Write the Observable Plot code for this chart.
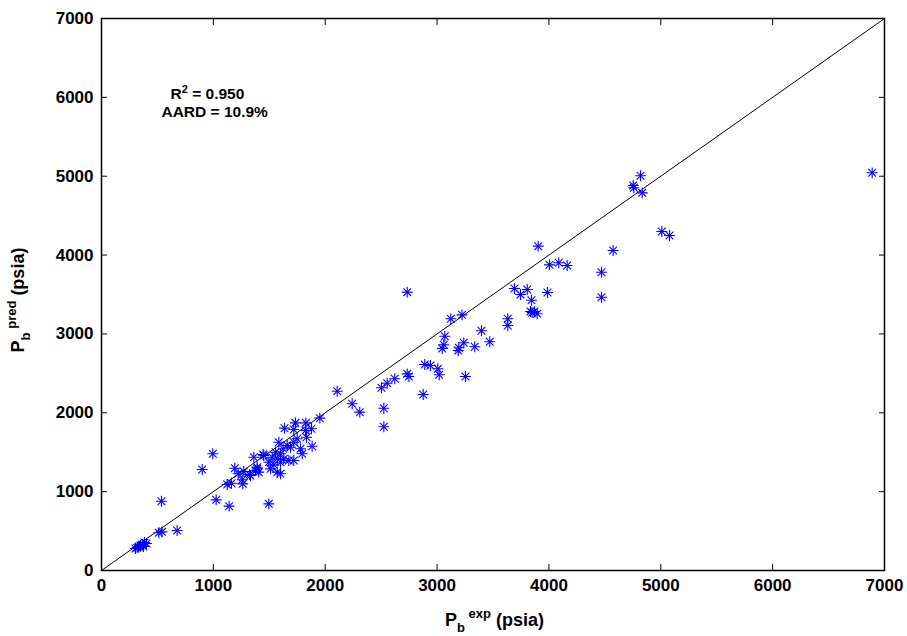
<!DOCTYPE html>
<html>
<head>
<meta charset="utf-8">
<script src="https://cdn.jsdelivr.net/npm/d3@7"></script>
<script src="https://cdn.jsdelivr.net/npm/@observablehq/plot@0.6"></script>
<style>
  html, body { margin: 0; padding: 0; background: white; }
  #chart svg { display: block; }
</style>
</head>
<body>
<div id="chart"></div>
<script>
// Experimental bubble-point pressure (psia)
const pbExp = [304, 331, 349, 366, 384, 402, 375, 320, 513, 540, 676, 536, 900, 995, 1025, 1141, 1124, 1162, 1192, 1222,
  1258, 1263, 1272, 1323, 1332, 1362, 1377, 1392, 1406, 1392, 1451, 1445, 1496, 1496, 1511, 1526, 1541, 1556, 1571, 1571,
  1585, 1600, 1600, 1600, 1624, 1630, 1636, 1660, 1675, 1690, 1719, 1719, 1719, 1734, 1749, 1779, 1794, 1824, 1827, 1833,
  1877, 1883, 1952, 2107, 2241, 2309, 2503, 2524, 2524, 2554, 2622, 2733, 2733, 2748, 2876, 2890, 2941, 3007, 3019, 3046,
  3060, 3069, 3123, 3189, 3195, 3223, 3239, 3254, 3337, 3397, 3471, 3632, 3632, 3692, 3746, 3806, 3835, 3850, 3870, 3895,
  3844, 3904, 3987, 4005, 4088, 4163, 4470, 4470, 4574, 4753, 4759, 4819, 4834, 5009, 5078, 6890];
// Predicted bubble-point pressure (psia)
const pbPred = [279, 304, 317, 330, 355, 342, 304, 290, 478, 490, 507, 879, 1281, 1480, 896, 816, 1090, 1107, 1297, 1226,
  1150, 1099, 1255, 1217, 1205, 1437, 1268, 1310, 1247, 1289, 1458, 1471, 1373, 845, 1289, 1437, 1340, 1500, 1416, 1247,
  1627, 1480, 1373, 1226, 1543, 1416, 1805, 1585, 1395, 1563, 1627, 1788, 1395, 1872, 1670, 1543, 1480, 1775, 1872, 1690,
  1797, 1576, 1932, 2274, 2114, 2008, 2317, 2058, 1822, 2375, 2431, 3530, 2494, 2460, 2232, 2612, 2600, 2558, 2482, 2815,
  2862, 2971, 3192, 2790, 2824, 3242, 2888, 2460, 2837, 3040, 2900, 3192, 3107, 3576, 3500, 3563, 3284, 3270, 3284, 3255,
  3428, 4113, 3525, 3876, 3902, 3868, 3783, 3466, 4058, 4882, 4853, 5005, 4789, 4299, 4248, 5043];
const diagonal = [0, 7000];
const tickValues = [0, 1000, 2000, 3000, 4000, 5000, 6000, 7000];
const annotLines = ["R2 = 0.950", "AARD = 10.9%"];
const annotX = [617, 536];
const annotY = [6036, 5814];

const points = pbExp.map((x, i) => ({x, y: pbPred[i]}));
const diagData = diagonal.map(v => ({x: v, y: v}));
const annot = annotLines.map((t, i) => ({t, x: annotX[i], y: annotY[i]}));

const blue = "#0000ff";
const plot = Plot.plot({
  width: 907,
  height: 636,
  marginLeft: 101,
  marginRight: 23,
  marginTop: 18,
  marginBottom: 66,
  x: {domain: [0, 7000], label: null},
  y: {domain: [0, 7000], label: null},
  style: {fontFamily: "'Liberation Sans', Arial, sans-serif", fontWeight: "bold", fontSize: "17px", color: "black", background: "white"},
  marks: [
    Plot.line(diagData, {x: "x", y: "y", stroke: "black", strokeWidth: 1}),
    Plot.dot(points, {x: "x", y: "y", symbol: "plus", stroke: blue, r: 3.6, strokeWidth: 1.1}),
    Plot.dot(points, {x: "x", y: "y", symbol: "times", stroke: blue, r: 3.6, strokeWidth: 1.1}),
    Plot.axisX(tickValues, {anchor: "bottom", tickSize: -6, tickPadding: 14, tickFormat: d => String(d), stroke: "black"}),
    Plot.axisY(tickValues, {anchor: "left", tickSize: -6, tickPadding: 14, tickFormat: d => String(d), stroke: "black"}),
    Plot.axisX(tickValues, {anchor: "top", tickSize: -6, tickFormat: () => "", stroke: "black"}),
    Plot.axisY(tickValues, {anchor: "right", tickSize: -6, tickFormat: () => "", stroke: "black"}),
    Plot.text(annot, {x: "x", y: "y", text: "t", textAnchor: "start", fontSize: 15.5, fontWeight: "bold", fill: "black", className: "annot"}),
    Plot.frame({stroke: "black", strokeWidth: 1.5})
  ]
});

const svg = d3.select(plot);
// superscript for R^2
svg.selectAll(".annot text").each(function() {
  const t = d3.select(this);
  const s = t.text();
  if (s.startsWith("R2")) {
    t.text("");
    t.append("tspan").text("R");
    t.append("tspan").attr("dy", -6).attr("font-size", 11).text("2");
    t.append("tspan").attr("dy", 6).text(s.slice(2));
  }
});

const xr = plot.scale("x").range;
const yr = plot.scale("y").range;
const cx = (xr[0] + xr[1]) / 2;
const cy = (yr[0] + yr[1]) / 2;
const fam = "'Liberation Sans', Arial, sans-serif";

const xl = svg.append("text")
  .attr("x", cx + 2).attr("y", 626)
  .attr("text-anchor", "middle")
  .attr("font-family", fam).attr("font-weight", "bold").attr("font-size", 18).attr("fill", "black");
xl.append("tspan").text("P");
xl.append("tspan").attr("dy", 6).attr("font-size", 13).text("b");
xl.append("tspan").attr("dy", -14).attr("font-size", 13).text(" exp");
xl.append("tspan").attr("dy", 8).text(" (psia)");

const yl = svg.append("text")
  .attr("transform", `translate(24,${cy + 6}) rotate(-90)`)
  .attr("text-anchor", "middle")
  .attr("font-family", fam).attr("font-weight", "bold").attr("font-size", 18).attr("fill", "black");
yl.append("tspan").text("P");
yl.append("tspan").attr("dy", 6).attr("font-size", 13).text("b");
yl.append("tspan").attr("dy", -14).attr("font-size", 13).text(" pred");
yl.append("tspan").attr("dy", 8).text(" (psia)");

document.getElementById("chart").appendChild(plot);
</script>
</body>
</html>
